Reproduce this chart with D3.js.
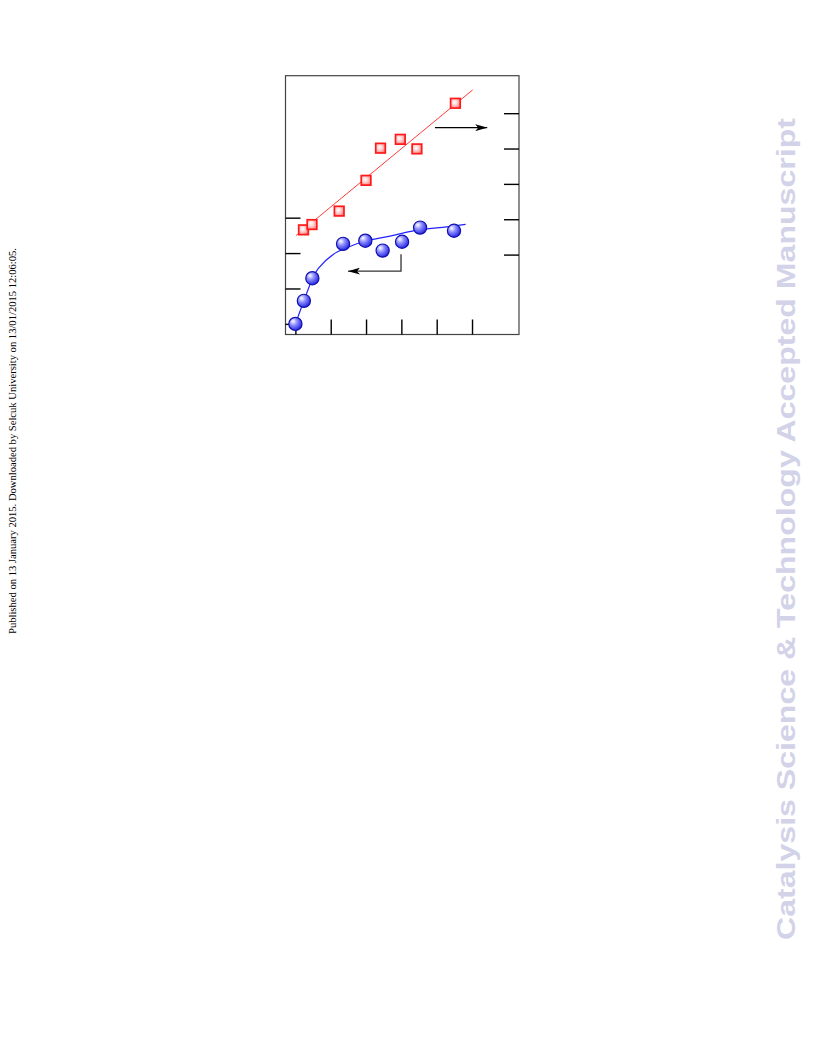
<!DOCTYPE html>
<html>
<head>
<meta charset="utf-8">
<script src="https://cdn.jsdelivr.net/npm/d3@7/dist/d3.min.js"></script>
<style>
  html, body { margin: 0; padding: 0; background: #fff; }
  svg { display: block; }
</style>
</head>
<body>
<svg id="chart" width="816" height="1056"></svg>
<script>
// ---------- data ----------
const xTicks = [0, 1, 2, 3, 4, 5];
const leftTicks = [0, 1, 2, 3];
const rightTicks = [1, 2, 3, 4, 5];

// blue circles (left axis)
const blueX = [0.00, 0.24, 0.48, 1.35, 1.98, 2.47, 3.02, 3.53, 4.49];
const blueY = [0.00, 0.65, 1.29, 2.26, 2.35, 2.07, 2.32, 2.72, 2.63];

// blue fitted curve (left axis)
const blueFitX = [0.00, 0.24, 0.48, 0.65, 1.08, 1.45, 1.98, 2.68, 3.53, 4.28, 4.82];
const blueFitY = [0.00, 0.65, 1.27, 1.57, 1.97, 2.15, 2.34, 2.48, 2.66, 2.74, 2.81];

// red squares (right axis)
const redX = [0.23, 0.47, 1.24, 2.00, 2.41, 2.97, 3.44, 4.53];
const redY = [1.70, 1.85, 2.23, 3.10, 4.01, 4.26, 3.99, 5.28];

// red fitted line (right axis), end points
const redFitX = [0.02, 5.02];
const redFitY = [1.54, 5.66];

// arrows (annotation anchors in data units)
const redArrowX = [3.95, 5.43];
const redArrowY = [4.59, 4.59];
const blueArrowX = [2.99, 2.99, 1.49];
const blueArrowY = [1.97, 1.49, 1.49];

const watermark = "Catalysis Science & Technology Accepted Manuscript";
const sideNote = "Published on 13 January 2015. Downloaded by Selcuk University on 13/01/2015 12:06:05.";

// ---------- layout ----------
const L = 285.5, R = 519, T = 75.7, B = 334.5;

const x = d3.scaleLinear().domain([-0.28, 6.33]).range([L, R]);
const yL = d3.scaleLinear().domain([-0.30, 7.01]).range([B, T]);
const yR = d3.scaleLinear().domain([-1.26, 6.06]).range([B, T]);

const svg = d3.select("#chart");
const defs = svg.append("defs");

const gB = defs.append("radialGradient").attr("id", "gBlue")
  .attr("cx", "38%").attr("cy", "35%").attr("r", "65%").attr("fx", "32%").attr("fy", "30%");
gB.append("stop").attr("offset", "0%").attr("stop-color", "#ffffff");
gB.append("stop").attr("offset", "45%").attr("stop-color", "#8c8cff");
gB.append("stop").attr("offset", "100%").attr("stop-color", "#2a2ae0");

const gR = defs.append("radialGradient").attr("id", "gRed")
  .attr("cx", "40%").attr("cy", "40%").attr("r", "75%");
gR.append("stop").attr("offset", "0%").attr("stop-color", "#ffffff");
gR.append("stop").attr("offset", "35%").attr("stop-color", "#ffd6d6");
gR.append("stop").attr("offset", "100%").attr("stop-color", "#ff6a6a");

defs.append("marker").attr("id", "ah")
  .attr("viewBox", "0 0 12 7").attr("refX", 12).attr("refY", 3.5)
  .attr("markerWidth", 12).attr("markerHeight", 7)
  .attr("markerUnits", "userSpaceOnUse").attr("orient", "auto")
  .append("path").attr("d", "M0,0 L12,3.5 L0,7 L3,3.5 Z").attr("fill", "#000");

// ---------- frame ----------
svg.append("rect").attr("x", L).attr("y", T).attr("width", R - L).attr("height", B - T)
  .attr("fill", "none").attr("stroke", "#444").attr("stroke-width", 1.2);

// ---------- axes (ticks inward, no labels) ----------
const tickStyle = g => {
  g.select(".domain").remove();
  g.selectAll(".tick line").attr("stroke", "#000").attr("stroke-width", 1.4);
  g.selectAll(".tick text").remove();
};
svg.append("g").attr("transform", `translate(0,${B})`)
  .call(d3.axisBottom(x).tickValues(xTicks).tickSize(-15).tickFormat(""))
  .call(tickStyle);
svg.append("g").attr("transform", `translate(${L},0)`)
  .call(d3.axisLeft(yL).tickValues(leftTicks).tickSize(-15).tickFormat(""))
  .call(tickStyle);
svg.append("g").attr("transform", `translate(${R},0)`)
  .call(d3.axisRight(yR).tickValues(rightTicks).tickSize(-15).tickFormat(""))
  .call(tickStyle);

// ---------- red line + squares ----------
const redFit = redFitX.map((v, i) => [v, redFitY[i]]);
svg.append("path").datum(redFit)
  .attr("d", d3.line().x(d => x(d[0])).y(d => yR(d[1])))
  .attr("fill", "none").attr("stroke", "#ff3a3a").attr("stroke-width", 1);

const reds = redX.map((v, i) => [v, redY[i]]);
const sq = 9.6;
svg.append("g").selectAll("rect").data(reds).join("rect")
  .attr("x", d => x(d[0]) - sq / 2).attr("y", d => yR(d[1]) - sq / 2)
  .attr("width", sq).attr("height", sq)
  .attr("fill", "url(#gRed)").attr("stroke", "#ff1a1a").attr("stroke-width", 1.7);

// ---------- blue curve + circles ----------
const blueFit = blueFitX.map((v, i) => [v, blueFitY[i]]);
svg.append("path").datum(blueFit)
  .attr("d", d3.line().curve(d3.curveCatmullRom.alpha(0.5)).x(d => x(d[0])).y(d => yL(d[1])))
  .attr("fill", "none").attr("stroke", "#2222ff").attr("stroke-width", 1.2);

const blues = blueX.map((v, i) => [v, blueY[i]]);
svg.append("g").selectAll("circle").data(blues).join("circle")
  .attr("cx", d => x(d[0])).attr("cy", d => yL(d[1])).attr("r", 6.6)
  .attr("fill", "url(#gBlue)").attr("stroke", "#1010b0").attr("stroke-width", 1.2);

// ---------- arrows ----------
const ra = redArrowX.map((v, i) => [v, redArrowY[i]]);
svg.append("path").datum(ra)
  .attr("d", d3.line().x(d => x(d[0])).y(d => yR(d[1])))
  .attr("fill", "none").attr("stroke", "#000").attr("stroke-width", 1.3)
  .attr("marker-end", "url(#ah)");

const ba = blueArrowX.map((v, i) => [v, blueArrowY[i]]);
svg.append("path").datum(ba)
  .attr("d", d3.line().x(d => x(d[0])).y(d => yL(d[1])))
  .attr("fill", "none").attr("stroke", "#333").attr("stroke-width", 1.3)
  .attr("marker-end", "url(#ah)");

// ---------- side texts ----------
svg.append("text")
  .attr("transform", "translate(16.3,634) rotate(-90)")
  .attr("font-family", "'Liberation Serif', 'Times New Roman', serif")
  .attr("font-size", 10.5)
  .attr("textLength", 386).attr("lengthAdjust", "spacingAndGlyphs")
  .attr("fill", "#000")
  .text(sideNote);

svg.append("text")
  .attr("transform", "translate(794.5,940) rotate(-90)")
  .attr("font-family", "'Liberation Sans', Arial, Helvetica, sans-serif")
  .attr("font-weight", "bold")
  .attr("font-size", 25.5)
  .attr("textLength", 822).attr("lengthAdjust", "spacingAndGlyphs")
  .attr("fill", "#d2d2e8")
  .text(watermark);
</script>
</body>
</html>
